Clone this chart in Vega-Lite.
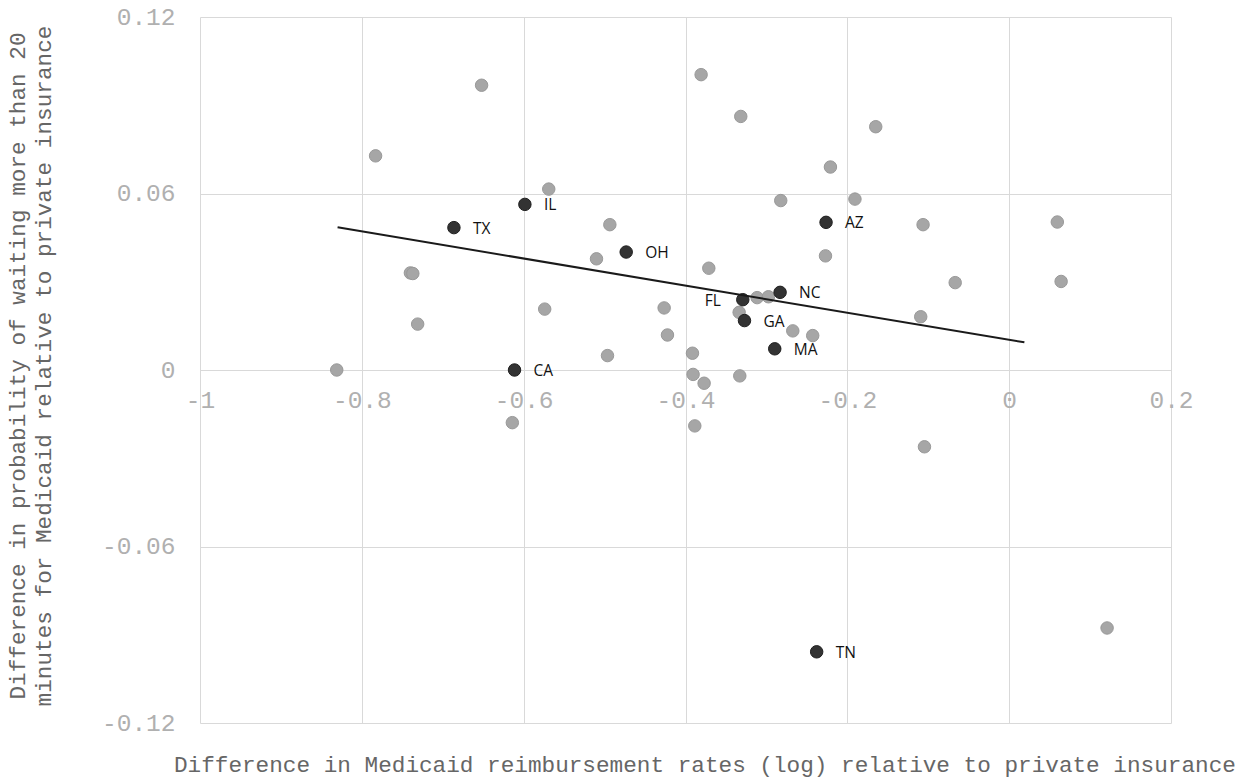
{
  "$schema": "https://vega.github.io/schema/vega-lite/v6.json",
  "autosize": {"type": "none"},
  "width": 971,
  "height": 706,
  "padding": {"left": 200, "top": 17, "right": 78, "bottom": 60},
  "background": "white",
  "config": {"view": {"stroke": null}},
  "datasets": {
    "states": [
      {"x": -0.831, "y": 0.0, "state": "", "group": "other"},
      {"x": -0.783, "y": 0.0728, "state": "", "group": "other"},
      {"x": -0.740, "y": 0.0330, "state": "", "group": "other"},
      {"x": -0.737, "y": 0.0328, "state": "", "group": "other"},
      {"x": -0.731, "y": 0.0156, "state": "", "group": "other"},
      {"x": -0.652, "y": 0.0968, "state": "", "group": "other"},
      {"x": -0.569, "y": 0.0615, "state": "", "group": "other"},
      {"x": -0.574, "y": 0.0207, "state": "", "group": "other"},
      {"x": -0.614, "y": -0.0179, "state": "", "group": "other"},
      {"x": -0.4935, "y": 0.0494, "state": "", "group": "other"},
      {"x": -0.510, "y": 0.0378, "state": "", "group": "other"},
      {"x": -0.4964, "y": 0.0049, "state": "", "group": "other"},
      {"x": -0.4264, "y": 0.0211, "state": "", "group": "other"},
      {"x": -0.4223, "y": 0.0119, "state": "", "group": "other"},
      {"x": -0.3914, "y": 0.0057, "state": "", "group": "other"},
      {"x": -0.3906, "y": -0.0015, "state": "", "group": "other"},
      {"x": -0.377, "y": -0.0045, "state": "", "group": "other"},
      {"x": -0.3885, "y": -0.019, "state": "", "group": "other"},
      {"x": -0.3807, "y": 0.1004, "state": "", "group": "other"},
      {"x": -0.3317, "y": 0.0862, "state": "", "group": "other"},
      {"x": -0.3712, "y": 0.0346, "state": "", "group": "other"},
      {"x": -0.3337, "y": 0.0196, "state": "", "group": "other"},
      {"x": -0.3115, "y": 0.0246, "state": "", "group": "other"},
      {"x": -0.2975, "y": 0.0249, "state": "", "group": "other"},
      {"x": -0.3329, "y": -0.002, "state": "", "group": "other"},
      {"x": -0.2674, "y": 0.0133, "state": "", "group": "other"},
      {"x": -0.2428, "y": 0.0117, "state": "", "group": "other"},
      {"x": -0.2209, "y": 0.069, "state": "", "group": "other"},
      {"x": -0.2823, "y": 0.0576, "state": "", "group": "other"},
      {"x": -0.227, "y": 0.0388, "state": "", "group": "other"},
      {"x": -0.1649, "y": 0.0827, "state": "", "group": "other"},
      {"x": -0.1906, "y": 0.0581, "state": "", "group": "other"},
      {"x": -0.1064, "y": 0.0494, "state": "", "group": "other"},
      {"x": -0.1093, "y": 0.0181, "state": "", "group": "other"},
      {"x": -0.1047, "y": -0.0261, "state": "", "group": "other"},
      {"x": -0.0667, "y": 0.0297, "state": "", "group": "other"},
      {"x": 0.0595, "y": 0.0503, "state": "", "group": "other"},
      {"x": 0.0642, "y": 0.0301, "state": "", "group": "other"},
      {"x": 0.121, "y": -0.0877, "state": "", "group": "other"},
      {"x": -0.6862, "y": 0.0484, "state": "TX", "group": "highlight"},
      {"x": -0.5985, "y": 0.0563, "state": "IL", "group": "highlight"},
      {"x": -0.4733, "y": 0.0401, "state": "OH", "group": "highlight"},
      {"x": -0.6113, "y": 0.0, "state": "CA", "group": "highlight"},
      {"x": -0.3292, "y": 0.0239, "state": "FL", "group": "highlight"},
      {"x": -0.2831, "y": 0.0264, "state": "NC", "group": "highlight"},
      {"x": -0.3271, "y": 0.0168, "state": "GA", "group": "highlight"},
      {"x": -0.2897, "y": 0.0072, "state": "MA", "group": "highlight"},
      {"x": -0.2263, "y": 0.0502, "state": "AZ", "group": "highlight"},
      {"x": -0.2379, "y": -0.0958, "state": "TN", "group": "highlight"}
    ],
    "trend": [
      {"x": -0.830, "y": 0.0485},
      {"x": 0.0188, "y": 0.0094}
    ]
  },
  "encoding": {
    "x": {
      "field": "x",
      "type": "quantitative",
      "scale": {"domain": [-1, 0.2], "nice": false, "zero": false},
      "axis": {
        "title": "Difference in Medicaid reimbursement rates (log) relative to private insurance",
        "values": [-1, -0.8, -0.6, -0.4, -0.2, 0, 0.2],
        "labelExpr": "toString(datum.value)",
        "offset": -353,
        "grid": true,
        "gridColor": "#d9d9d9",
        "gridWidth": 1,
        "domain": false,
        "ticks": false,
        "tickSize": 0,
        "labelPadding": 18,
        "labelBaseline": "top",
        "labelFlush": false,
        "labelOverlap": false,
        "labelFont": "Liberation Mono",
        "labelFontSize": 24.5,
        "labelColor": "#b0b0b0",
        "titleFont": "Liberation Mono",
        "titleFontSize": 22.7,
        "titleFontWeight": "normal",
        "titleColor": "#666666",
        "titleX": 504.4,
        "titleY": 401,
        "titleAlign": "center",
        "titleBaseline": "alphabetic"
      }
    },
    "y": {
      "field": "y",
      "type": "quantitative",
      "scale": {"domain": [-0.12, 0.12], "nice": false, "zero": false},
      "axis": {
        "title": ["Difference in probability of waiting more than 20", "minutes for Medicaid relative to private insurance"],
        "values": [-0.12, -0.06, 0, 0.06, 0.12],
        "labelExpr": "toString(datum.value)",
        "grid": true,
        "gridColor": "#d9d9d9",
        "gridWidth": 1,
        "domain": false,
        "ticks": false,
        "tickSize": 0,
        "labelPadding": 25,
        "labelFont": "Liberation Mono",
        "labelFontSize": 24.5,
        "labelColor": "#b0b0b0",
        "labelOverlap": false,
        "labelFlush": false,
        "titleFont": "Liberation Mono",
        "titleFontSize": 22.7,
        "titleFontWeight": "normal",
        "titleColor": "#666666",
        "titleAngle": 270,
        "titleX": -176,
        "titleY": 348.5,
        "titleAlign": "center",
        "titleBaseline": "alphabetic",
        "titleLineHeight": 26
      }
    }
  },
  "layer": [
    {
      "data": {"name": "states"},
      "mark": {"type": "point", "shape": "circle", "filled": true, "size": 155, "opacity": 1, "strokeWidth": 1},
      "encoding": {
        "color": {
          "field": "group",
          "type": "nominal",
          "scale": {"domain": ["other", "highlight"], "range": ["#a6a6a6", "#333333"]},
          "legend": null
        },
        "stroke": {
          "field": "group",
          "type": "nominal",
          "scale": {"domain": ["other", "highlight"], "range": ["#999999", "#1f1f1f"]},
          "legend": null
        },
        "order": {"field": "group", "sort": "descending"}
      }
    },
    {
      "data": {"name": "trend"},
      "mark": {"type": "line", "color": "#1a1a1a", "strokeWidth": 2},
      "encoding": {}
    },
    {
      "data": {"name": "states"},
      "transform": [{"filter": "datum.state != '' && datum.state != 'FL'"}],
      "mark": {"type": "text", "align": "left", "baseline": "middle", "dx": 19, "dy": 1, "font": "Open Sans", "fontSize": 15.5, "color": "#111111"},
      "encoding": {"text": {"field": "state"}}
    },
    {
      "data": {"name": "states"},
      "transform": [{"filter": "datum.state == 'FL'"}],
      "mark": {"type": "text", "align": "right", "baseline": "middle", "dx": -22, "dy": 1, "font": "Open Sans", "fontSize": 15.5, "color": "#111111"},
      "encoding": {"text": {"field": "state"}}
    }
  ]
}
